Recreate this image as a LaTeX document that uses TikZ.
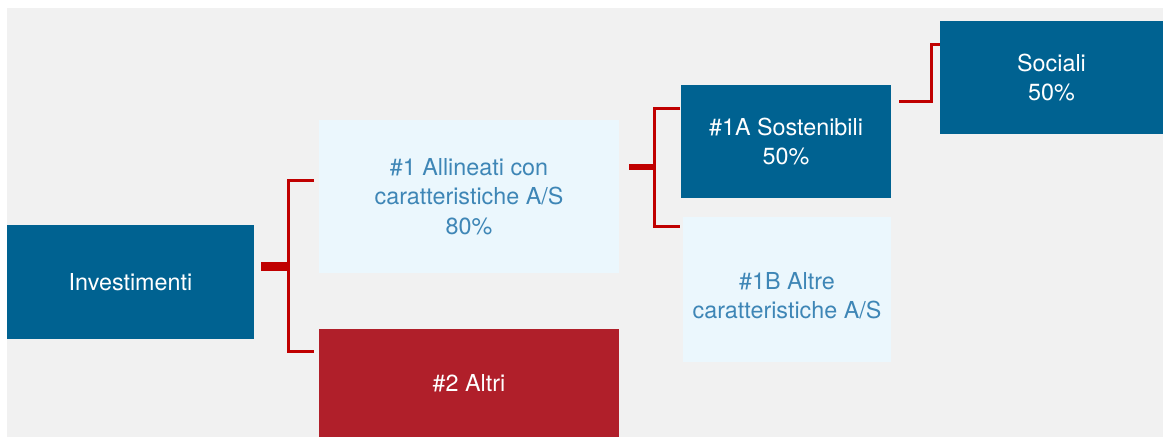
\documentclass[tikz,border=0pt]{standalone}
\usepackage{fontspec}
\setmainfont{TeX Gyre Heros}
\usetikzlibrary{calc}
\definecolor{bgray}{RGB}{241,241,241}
\definecolor{dblue}{RGB}{0,98,145}
\definecolor{lblue}{RGB}{235,247,253}
\definecolor{tblue}{RGB}{62,134,182}
\definecolor{dred}{RGB}{176,31,42}
\definecolor{lred}{RGB}{192,0,0}
\tikzset{
  bsize/.style 2 args={minimum width=#1*0.75pt,minimum height=#2*0.75pt},
  box/.style={rectangle,inner sep=0pt,outer sep=0pt,align=center,font=\fontsize{17.5}{22}\selectfont},
  darkbox/.style={box,fill=dblue,text=white},
  lightbox/.style={box,fill=lblue,text=tblue},
  redbox/.style={box,fill=dred,text=white},
  brk/.style={draw=lred,line width=2.25pt},
  stub/.style={draw=lred,line width=#1}
}
\begin{document}
\begin{tikzpicture}[x=0.75pt,y=-0.75pt]
\useasboundingbox (0,0) rectangle (1163,437);
\fill[bgray] (7,8) rectangle (1163,437);
\node[darkbox,bsize={247}{114}] (inv) at (130.5,282) {Investimenti};
\node[lightbox,bsize={300}{153}] (a1) at (469,196.5) {\#1 Allineati con\\caratteristiche A/S\\80\%};
\node[redbox,bsize={300}{108}] (a2) at (469,383) {\#2 Altri};
\node[darkbox,bsize={210}{113}] (s1a) at (786,141.5) {\#1A Sostenibili\\50\%};
\node[lightbox,bsize={208}{145}] (s1b) at (787,289.5) {\rule{0pt}{22pt}\#1B Altre\\caratteristiche A/S};
\node[darkbox,bsize={223}{113}] (soc) at (1051.5,77.5) {Sociali\\50\%};
\coordinate (b1) at (288,266);
\coordinate (b2) at (654,167);
\coordinate (t1) at (314,180);
\coordinate (t2) at (314,351);
\coordinate (t3) at (680,108);
\coordinate (t4) at (680,226);
\coordinate (c1) at (899,101);
\draw[stub=6.75pt] ([xshift=5.25pt]inv.east |- b1) -- (b1);
\draw[brk] (t1) -| (b1) |- (t2);
\draw[stub=4.5pt] ([xshift=7.5pt]a1.east |- b2) -- (b2);
\draw[brk] (t3) -| (b2) |- (t4);
\draw[brk] (c1) -- ++(32,0) |- (soc.west |- 0,44);
\end{tikzpicture}
\end{document}
